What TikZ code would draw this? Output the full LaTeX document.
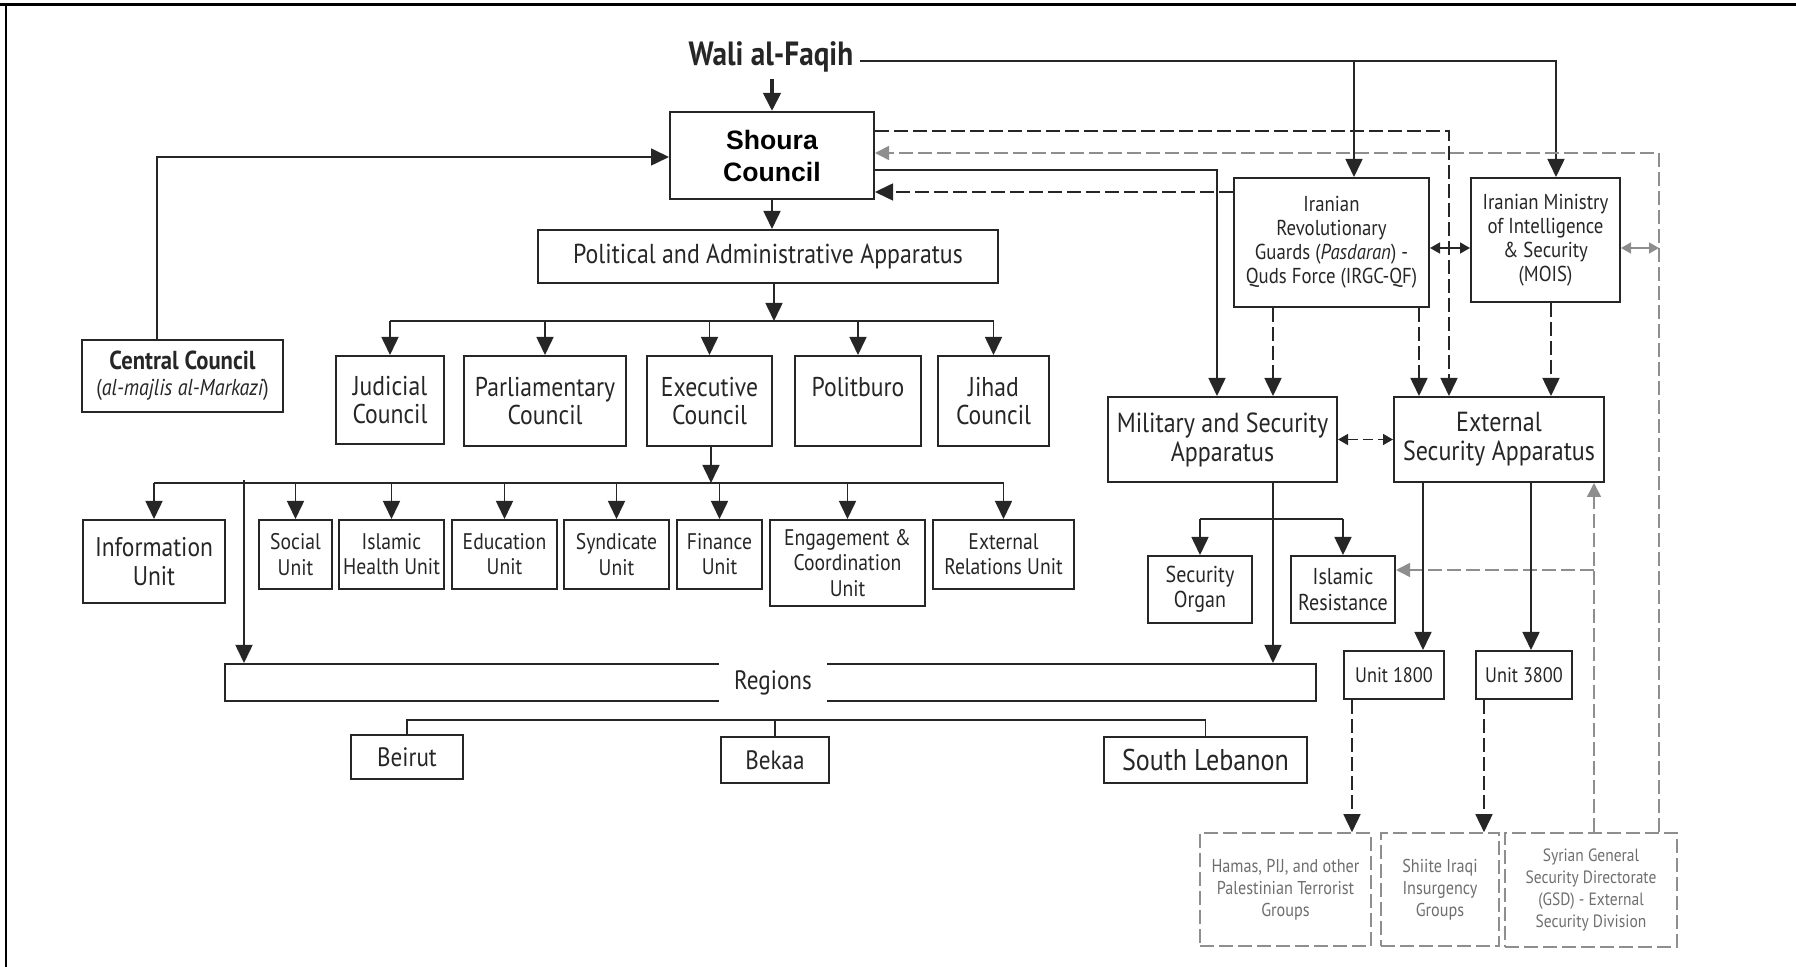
\documentclass[tikz,border=0pt]{standalone}
\usepackage{fontspec}
\setmainfont{PT Sans}[FakeStretch=0.87]
\newfontfamily\shourafont{Liberation Sans}
\usepackage{xcolor}
\usetikzlibrary{arrows.meta}
\definecolor{ink}{HTML}{262626}
\definecolor{shade}{HTML}{8E8E8E}
\definecolor{shadetxt}{HTML}{6E6E6E}

\begin{document}
\begin{tikzpicture}[x=0.5pt, y=-0.5pt,
   bsize/.style 2 args={minimum width=#1*0.5pt, minimum height=#2*0.5pt},
   box/.style={draw=ink, line width=1pt, text=ink, align=center, inner sep=1pt},
   gbox/.style={draw=shade, line width=0.8pt, dash pattern=on 7pt off 2.5pt, text=shadetxt, align=center, inner sep=1pt, font=\fontsize{9.3}{11}\selectfont},
   lg/.style={font=\fontsize{13.7}{16}\selectfont},
   md/.style={font=\fontsize{13.6}{14}\selectfont},
   ms/.style={font=\fontsize{13.8}{14.5}\selectfont},
   sm/.style={font=\fontsize{11.3}{12.6}\selectfont},
   xs/.style={font=\fontsize{10.8}{12}\selectfont},
   rg/.style={font=\fontsize{13.3}{15}\selectfont},
   conn/.style={draw=ink, line width=0.8pt},
   arr/.style={conn, -{Triangle[length=9pt,width=8.5pt]}},
   darr/.style={arr, dash pattern=on 7pt off 2.5pt},
   garr/.style={draw=shade, line width=0.8pt, dash pattern=on 7pt off 2.5pt, -{Triangle[length=7pt,width=7pt, fill=shade]}},
   tip/.tip={Triangle[length=5pt,width=5.5pt]}]
   \useasboundingbox (0,0) rectangle (1796,967);
   \draw[line width=1.5pt] (0,5) -- (1796,5);
   \draw[line width=1pt] (6,5) -- (6,967);

   \node[text=ink, font=\bfseries\fontsize{16.8}{19}\selectfont] (wali) at (771,57) {Wali al-Faqih};
   \node[box, bsize={204}{87}, text=black, font=\shourafont\bfseries\fontsize{13.3}{16}\selectfont] (shoura) at (772,155.5) {Shoura\\Council};
   \node[box, lg, bsize={460}{53}] (pol_app) at (768,256.5) {Political and Administrative Apparatus};
   \node[box, bsize={201}{72}, font=\fontsize{11.5}{13}\selectfont] (central) at (182.5,376) {\textbf{\fontsize{13}{13}\selectfont Central Council}\\({\itshape al-majlis al-Markazi})};

   \node[box, md, bsize={108}{88}] (jud) at (390,400) {Judicial\\Council};
   \node[box, md, bsize={162}{90}] (parl) at (545,401) {Parliamentary\\Council};
   \node[box, md, bsize={125}{90}] (exec) at (709.5,401) {Executive\\Council};
   \node[box, md, bsize={126}{90}] (polit) at (858,401) {Politburo\\~};
   \node[box, md, bsize={111}{90}] (jihad) at (993.5,401) {Jihad\\Council};

   \node[box, font=\fontsize{13.5}{14.3}\selectfont, bsize={142}{83}] (info) at (154,561.5) {Information\\Unit};
   \node[box, sm, bsize={73}{69}] (social) at (295.5,554.5) {Social\\Unit};
   \node[box, sm, bsize={105}{69}] (health) at (391.5,554.5) {Islamic\\Health Unit};
   \node[box, sm, bsize={105}{69}] (edu) at (504.5,554.5) {Education\\Unit};
   \node[box, sm, bsize={105}{69}] (synd) at (616.5,554.5) {Syndicate\\Unit};
   \node[box, sm, bsize={85}{69}] (fin) at (719.5,554.5) {Finance\\Unit};
   \node[box, sm, bsize={155}{86}] (engage) at (847.5,563) {Engagement \&\\Coordination\\Unit};
   \node[box, sm, bsize={141}{69}] (extrel) at (1003.5,554.5) {External\\Relations Unit};

   \node[draw=ink, line width=1pt, inner sep=0pt, bsize={1091}{37}] (regbox) at (770.5,682.5) {};
   \node[fill=white, text=ink, rg, bsize={108}{44}] (regions) at (773,682.5) {Regions};
   \node[box, rg, bsize={112}{44}] (beirut) at (407,757) {Beirut};
   \node[box, rg, bsize={108}{46}] (bekaa) at (775,760) {Bekaa};
   \node[box, font=\fontsize{15}{16}\selectfont, bsize={203}{46}] (south) at (1205.5,760) {South Lebanon};

   \node[box, xs, bsize={195}{129}] (irgc) at (1331.5,242.5) {Iranian\\Revolutionary\\Guards (\textit{Pasdaran}) -\\Quds Force (IRGC-QF)};
   \node[box, xs, bsize={149}{124}] (mois) at (1545.5,240) {Iranian Ministry\\of Intelligence\\\& Security\\(MOIS)};
   \node[box, ms, bsize={229}{85}] (mil) at (1222.5,439.5) {Military and Security\\Apparatus};
   \node[box, ms, bsize={210}{85}] (esa) at (1499,439.5) {External\\Security Apparatus};
   \node[box, font=\fontsize{11.5}{12.6}\selectfont, bsize={104}{67}] (secorg) at (1200,589.5) {Security\\Organ};
   \node[box, font=\fontsize{11.5}{12.6}\selectfont, bsize={104}{67}] (islres) at (1343,589.5) {Islamic\\Resistance};
   \node[box, font=\fontsize{10.5}{12}\selectfont, bsize={100}{48}] (u1800) at (1394,675) {Unit 1800};
   \node[box, font=\fontsize{10.5}{12}\selectfont, bsize={96}{48}] (u3800) at (1524,675) {Unit 3800};
   \node[gbox, bsize={171}{113}] (hamas) at (1285.5,889.5) {Hamas, PIJ, and other\\Palestinian Terrorist\\Groups};
   \node[gbox, bsize={118}{113}] (shiite) at (1440,889.5) {Shiite Iraqi\\Insurgency\\Groups};
   \node[gbox, font=\fontsize{8.9}{11}\selectfont, bsize={172}{114}] (syria) at (1591,890) {Syrian General\\Security Directorate\\(GSD) - External\\Security Division};

   \coordinate (w_irgc) at (1354,61);
   \coordinate (w_mois) at (1556,61);
   \coordinate (c_up) at (157,157);
   \coordinate (bus1) at (774,321);
   \coordinate (bus2) at (711,483);
   \coordinate (reg_in) at (244,480);
   \coordinate (rbar) at (0,720);
   \coordinate (s_esa) at (1449,131);
   \coordinate (s_mil) at (1217,170);
   \coordinate (i_s) at (1234,192);
   \coordinate (sy_r) at (1659,153);
   \coordinate (sy_l) at (1594,570);
   \coordinate (ib) at (1450,248);
   \coordinate (x_im) at (1273,0);
   \coordinate (x_ie) at (1419,0);
   \coordinate (x_me) at (1551,0);
   \coordinate (m_bar) at (1273,519);
   \coordinate (x_e1) at (1423,0);
   \coordinate (x_e3) at (1531,0);
   \coordinate (x_h) at (1352,0);
   \coordinate (x_s) at (1484,0);

   \draw[conn, line width=2pt, -{Triangle[length=9pt,width=8.5pt]}] (wali.south -| shoura.north) -- (shoura.north);
   \draw[arr] (wali.east |- w_mois) -- (w_mois) -- (mois.north -| w_mois);
   \draw[arr] (w_irgc) -- (irgc.north -| w_irgc);
   \draw[arr] (central.north -| c_up) |- (shoura.west |- c_up);
   \draw[arr] (shoura.south) -- (shoura.south |- pol_app.north);

   \draw[arr] (pol_app.south -| bus1) -- (bus1);
   \draw[conn] (jud.north |- bus1) -- (jihad.north |- bus1);
   \foreach \n in {jud,parl,exec,polit,jihad}
      \draw[arr] (\n.north |- bus1) -- (\n.north);

   \draw[arr] (exec.south -| bus2) -- (bus2);
   \draw[conn] (info.north |- bus2) -- (extrel.north |- bus2);
   \foreach \n in {info,social,health,edu,synd,fin,engage,extrel}
      \draw[arr] (\n.north |- bus2) -- (\n.north);
   \draw[arr] (reg_in) -- (reg_in |- regbox.north);

   \draw[conn] (beirut.north) |- (south.north |- rbar) -- (south.north);
   \draw[conn] (bekaa.north) -- (bekaa.north |- rbar);

   \draw[darr] (shoura.east |- s_esa) -| (esa.north -| s_esa);
   \draw[arr] (shoura.east |- s_mil) -| (mil.north -| s_mil);
   \draw[darr] (irgc.west |- i_s) -- (shoura.east |- i_s);
   \draw[garr] (syria.north -| sy_r) |- (shoura.east |- sy_r);
   \draw[garr] (syria.north -| sy_l) -- (esa.south -| sy_l);
   \draw[garr] (sy_l) -- (islres.east |- sy_l);
   \draw[conn, tip-tip] (irgc.east |- ib) -- (mois.west |- ib);
   \draw[draw=shade, line width=0.8pt, {tip[fill=shade]}-{tip[fill=shade]}] (mois.east |- ib) -- (sy_r |- ib);

   \draw[darr] (irgc.south -| x_im) -- (mil.north -| x_im);
   \draw[darr] (irgc.south -| x_ie) -- (esa.north -| x_ie);
   \draw[darr] (mois.south -| x_me) -- (esa.north -| x_me);
   \draw[conn, dash pattern=on 5pt off 2.5pt, tip-tip] (mil.east) -- (esa.west);

   \draw[arr] (mil.south -| x_im) -- (regbox.north -| x_im);
   \draw[conn] (secorg.north |- m_bar) -- (islres.north |- m_bar);
   \draw[arr] (secorg.north |- m_bar) -- (secorg.north);
   \draw[arr] (islres.north |- m_bar) -- (islres.north);

   \draw[arr] (esa.south -| x_e1) -- (u1800.north -| x_e1);
   \draw[arr] (esa.south -| x_e3) -- (u3800.north -| x_e3);
   \draw[darr] (u1800.south -| x_h) -- (hamas.north -| x_h);
   \draw[darr] (u3800.south -| x_s) -- (shiite.north -| x_s);
\end{tikzpicture}
\end{document}
